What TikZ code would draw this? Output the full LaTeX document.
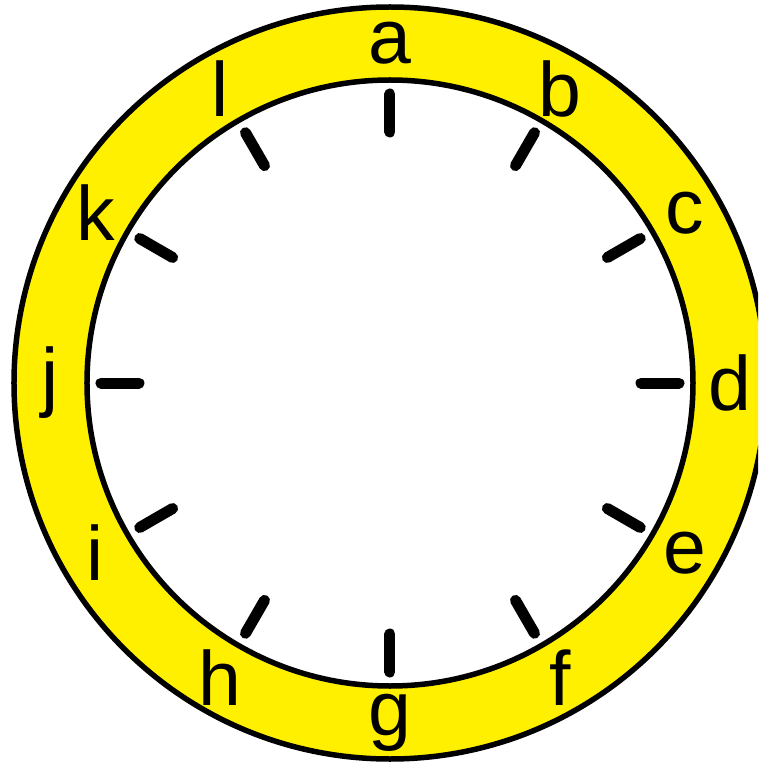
\documentclass[tikz,border=0pt]{standalone}
\usepackage{fontspec}
\setmainfont{Liberation Sans}
\definecolor{ringyellow}{RGB}{255,240,0}
\begin{document}
\begin{tikzpicture}[x=1pt,y=1pt,
  ring/.style={draw=black,line width=5.5pt},
  tick/.style={draw=black,line width=11pt,line cap=round},
  lbl/.style={inner sep=0pt,font=\fontsize{77}{77}\selectfont}]
\useasboundingbox (-390,-380) rectangle (368,383);
\clip (-390,-380) rectangle (368,383);
\coordinate (o) at (0,0);
\fill[ringyellow] (o) circle (376);
\draw[ring] (o) circle (376);
\fill[white] (o) circle (303);
\draw[ring] (o) circle (303);
\foreach \ang in {0,30,...,330}{
  \draw[tick] (\ang:251) -- (\ang:289);
}
\foreach \lab/\ang in {a/90,b/60,c/30,d/0,e/-30,f/-60,g/-90,h/-120,i/-150,j/180,k/150,l/120}{
  \node[lbl] (L\lab) at (\ang:340) {\lab};
}
\end{tikzpicture}
\end{document}
